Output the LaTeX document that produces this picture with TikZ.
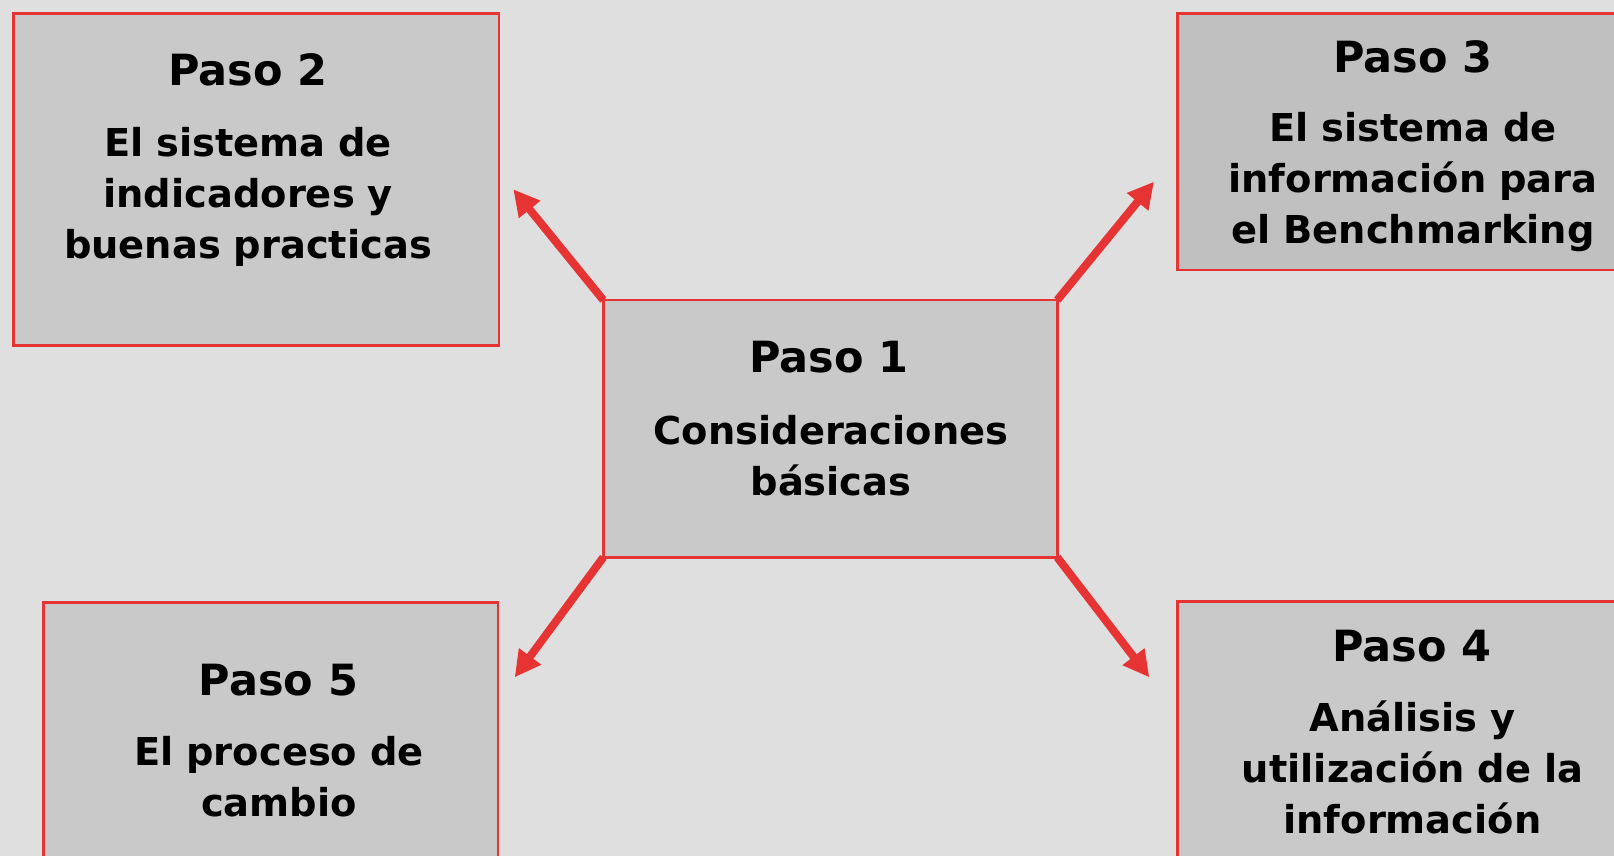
\documentclass[tikz,border=0pt]{standalone}
\usepackage{fontspec}
\setmainfont{DejaVu Sans}
\usetikzlibrary{arrows.meta}

\definecolor{fondo}{RGB}{223,223,223}
\definecolor{caja}{RGB}{201,201,201}
\definecolor{cajalisa}{RGB}{192,192,192}
\definecolor{rojo}{RGB}{230,52,52}

\tikzset{
	pasobox/.style={rectangle,draw=rojo,line width=1.4pt,fill=caja,outer sep=0pt,inner sep=0pt},
	pasotitle/.style={anchor=base,inner sep=0pt,font=\bfseries\fontsize{21.5pt}{26pt}\selectfont},
	pasotext/.style={anchor=base,inner sep=0pt,align=center,text width=240pt,font=\bfseries\fontsize{19.2pt}{25.5pt}\selectfont},
	flecha/.style={draw=rojo,line width=4pt,-{Triangle[length=13pt,width=13pt]}}
}

\begin{document}
\begin{tikzpicture}[x=0.5pt,y=-0.5pt]
		\clip (0,0) rectangle (1614,856);
		\fill[fondo] (0,0) rectangle (1614,856);
	
		% the five boxes
		\node[pasobox,minimum width=227pt,minimum height=128.65pt] (paso1) at (830.3,428.7) {};
		\node[pasobox,minimum width=242.85pt,minimum height=166.2pt] (paso2) at (256.2,179.5) {};
		\node[pasobox,fill=cajalisa,minimum width=242.85pt,minimum height=128.35pt] (paso3) at (1420.5,141.7) {};
		\node[pasobox,minimum width=242.85pt,minimum height=166.2pt] (paso4) at (1420.5,767.9) {};
		\node[pasobox,minimum width=227.35pt,minimum height=166.2pt] (paso5) at (270.7,768.9) {};
		
		\node[pasotitle] (paso1t) at (829,372.7) {Paso 1};
		\node[pasotext] (paso1b) at (831,444) {Consideraciones\\básicas};
		
		\node[pasotitle] (paso2t) at (248,86) {Paso 2};
		\node[pasotext] (paso2b) at (248,156.7) {El sistema de\\indicadores y\\buenas practicas};
		
		\node[pasotitle] (paso3t) at (1413,72.3) {Paso 3};
		\node[pasotext] (paso3b) at (1413,141.7) {El sistema de\\información para\\el Benchmarking};
		
		\node[pasotitle] (paso4t) at (1412,661.7) {Paso 4};
		\node[pasotext] (paso4b) at (1412.5,731.7) {Análisis y\\utilización de la\\información};
		
		\node[pasotitle] (paso5t) at (278.5,695) {Paso 5};
		\node[pasotext] (paso5b) at (279,765) {El proceso de\\cambio};
		
		% arrows out of the corners of Paso 1
		\coordinate (f2) at (513.3,189.3);
		\coordinate (f3) at (1154,181.7);
		\coordinate (f4) at (1149.3,677.3);
		\coordinate (f5) at (514.7,677.3);
		
		\draw[flecha] (paso1.north west) -- (f2);
		\draw[flecha] (paso1.north east) -- (f3);
		\draw[flecha] (paso1.south east) -- (f4);
		\draw[flecha] (paso1.south west) -- (f5);
	\end{tikzpicture}
\end{document}
